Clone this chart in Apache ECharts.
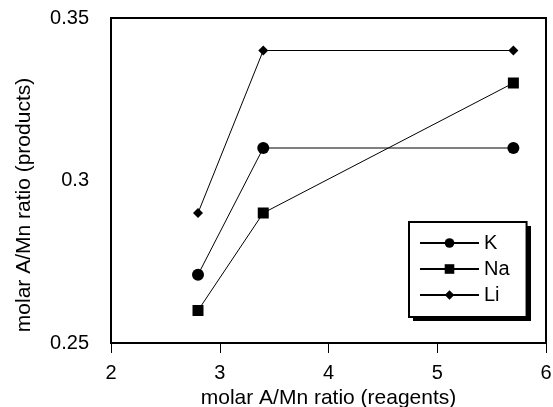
<!DOCTYPE html>
<html>
<head>
<meta charset="utf-8">
<script src="https://cdn.jsdelivr.net/npm/echarts@6/dist/echarts.min.js"></script>
<style>
  html, body { margin: 0; padding: 0; background: #fff; }
  #chart { width: 553px; height: 407px; }
</style>
</head>
<body>
<div id="chart"></div>
<script>
// molar A/Mn ratio (reagents) vs molar A/Mn ratio (products)
const reagents = [2.8, 3.4, 5.7];
const kValues = [0.271, 0.31, 0.31];
const naValues = [0.26, 0.29, 0.33];
const liValues = [0.29, 0.34, 0.34];
const seriesNames = ['K', 'Na', 'Li'];
const seriesSymbols = ['circle', 'rect', 'diamond'];
const seriesSizes = [12, 11, 10];

const font = '"Liberation Sans", Arial, sans-serif';
const chart = echarts.init(document.getElementById('chart'));

const pairs = (ys) => reagents.map((x, i) => [x, ys[i]]);
const allValues = [kValues, naValues, liValues];

chart.setOption({
  animation: false,
  grid: {
    left: 111, right: 7, top: 18, bottom: 64,
    outerBoundsMode: 'none',
    containLabel: false,
    show: true, borderColor: '#000', borderWidth: 2
  },
  xAxis: {
    type: 'value', min: 2, max: 6, interval: 1,
    name: 'molar A/Mn ratio (reagents)',
    nameLocation: 'middle', nameGap: 40,
    nameTextStyle: { fontFamily: font, fontSize: 21, color: '#000' },
    axisLine: { show: true, lineStyle: { color: '#000', width: 2 } },
    axisTick: { show: true, inside: false, length: 10, lineStyle: { color: '#000', width: 1 } },
    axisLabel: { fontFamily: font, fontSize: 20, color: '#000', margin: 20 },
    splitLine: { show: false }
  },
  yAxis: {
    type: 'value', min: 0.25, max: 0.35, interval: 0.05,
    axisLine: { show: true, lineStyle: { color: '#000', width: 2 } },
    axisTick: { show: false },
    axisLabel: { fontFamily: font, fontSize: 20, color: '#000', margin: 22, padding: [6, 0, 0, 0] },
    splitLine: { show: false }
  },
  legend: {
    orient: 'vertical',
    left: 409, top: 222,
    padding: [11, 17, 12, 10],
    itemWidth: 59, itemHeight: 12, itemGap: 6,
    backgroundColor: '#fff',
    borderColor: '#000', borderWidth: 2, borderRadius: 0,
    textStyle: { fontFamily: font, fontSize: 20, color: '#000' },
    data: seriesNames
  },
  graphic: [{
    // legend drop shadow
    type: 'rect',
    z: 3,
    shape: { x: 413, y: 226, width: 118, height: 95 },
    style: { fill: '#000' }
  }, {
    type: 'text',
    x: 24, y: 205,
    rotation: Math.PI / 2,
    style: {
      text: 'molar A/Mn ratio (products)',
      font: '21px ' + font,
      fill: '#000',
      align: 'center',
      verticalAlign: 'middle'
    }
  }],
  series: seriesNames.map((name, i) => ({
    name: name,
    type: 'line',
    data: pairs(allValues[i]),
    symbol: seriesSymbols[i],
    symbolSize: seriesSizes[i],
    showAllSymbol: true,
    itemStyle: { color: '#000' },
    lineStyle: { color: '#000', width: 1 }
  }))
});
</script>
</body>
</html>
